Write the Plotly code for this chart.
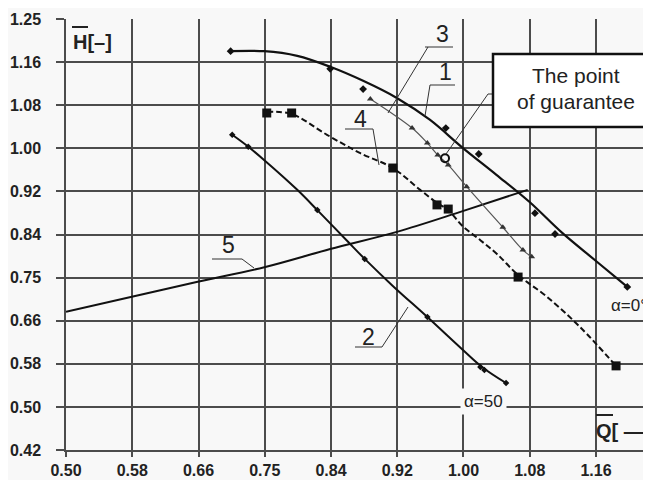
import plotly.graph_objects as go

# ---------------- data ----------------
x_ticks = [0.50, 0.5825, 0.665, 0.7475, 0.83, 0.9125, 0.995, 1.0775, 1.16]
x_ticktext = ["0.50", "0.58", "0.66", "0.75", "0.84", "0.92", "1.00", "1.08", "1.16"]
y_ticks = [0.42, 0.503, 0.586, 0.669, 0.752, 0.835, 0.918, 1.001, 1.084, 1.167, 1.25]
y_ticktext = ["0.42", "0.50", "0.58", "0.66", "0.75", "0.84", "0.92", "1.00", "1.08", "1.16", "1.25"]

# curve 1 (alpha = 0 deg)
c1_q = [0.705, 0.747, 0.788, 0.829, 0.870, 0.912, 0.953, 0.994, 1.036, 1.077, 1.118, 1.160, 1.199]
c1_h = [1.188, 1.188, 1.179, 1.158, 1.131, 1.098, 1.056, 1.002, 0.950, 0.898, 0.838, 0.784, 0.734]
c1_pts_q = [0.705, 0.829, 0.870, 0.973, 1.014, 1.084, 1.109, 1.199]
c1_pts_h = [1.188, 1.154, 1.115, 1.040, 0.990, 0.876, 0.836, 0.734]

# curve 2 (alpha = 50)
c2_q = [0.707, 0.727, 0.747, 0.788, 0.813, 0.850, 0.872, 0.907, 0.950, 0.994, 1.018, 1.048]
c2_h = [1.027, 1.004, 0.978, 0.921, 0.882, 0.823, 0.788, 0.736, 0.676, 0.613, 0.580, 0.549]
c2_pts_q = [0.707, 0.727, 0.813, 0.872, 0.950, 1.016, 1.021, 1.048]
c2_pts_h = [1.027, 1.004, 0.882, 0.788, 0.676, 0.580, 0.574, 0.549]

# curve 3 (triangles)
c3_q = [0.879, 0.931, 0.950, 0.963, 0.976, 0.999, 1.044, 1.069, 1.080]
c3_h = [1.096, 1.040, 1.011, 0.988, 0.969, 0.927, 0.849, 0.805, 0.792]

# curve 4 (dashed, squares)
c4_q = [0.750, 0.781, 0.825, 0.866, 0.907, 0.941, 0.962, 0.976, 0.994, 1.016, 1.037, 1.063, 1.099, 1.140, 1.185]
c4_h = [1.071, 1.067, 1.027, 0.992, 0.963, 0.921, 0.896, 0.882, 0.851, 0.824, 0.797, 0.757, 0.715, 0.657, 0.582]
c4_pts_q = [0.750, 0.781, 0.907, 0.962, 0.976, 1.063, 1.185]
c4_pts_h = [1.069, 1.069, 0.963, 0.892, 0.884, 0.753, 0.582]

# curve 5
c5_q = [0.500, 0.582, 0.664, 0.747, 0.829, 0.912, 0.994, 1.075]
c5_h = [0.686, 0.715, 0.744, 0.772, 0.807, 0.840, 0.880, 0.921]

# point of guarantee
g_q = [0.972]
g_h = [0.982]

# ---------------- layout helpers (screen pixel -> axis units) ----------------
W, H = 651, 480
OFF = 8                       # page body margin of the browser
PL, PR, PT, PB = 66, 651, 19, 450   # plot area on screen
XR = [0.50, 0.50 + (PR - PL) / 803.0]
YR = [0.42, 1.25]


def X(px):
    return XR[0] + (px - PL) * (XR[1] - XR[0]) / (PR - PL)


def Y(py):
    return YR[0] + (PB - py) * (YR[1] - YR[0]) / (PB - PT)


BG = "#f8f8f8"
GRID = "#4c4c4c"
FONT = "Liberation Sans, Arial, sans-serif"

fig = go.Figure()

fig.add_trace(go.Scatter(x=c5_q, y=c5_h, mode="lines", line=dict(color="#111", width=2, shape="spline"),
                         hoverinfo="skip"))
fig.add_trace(go.Scatter(x=c1_q, y=c1_h, mode="lines", line=dict(color="#111", width=2.2, shape="spline"),
                         hoverinfo="skip"))
fig.add_trace(go.Scatter(x=c1_pts_q, y=c1_pts_h, mode="markers",
                         marker=dict(symbol="diamond", size=6, color="#111")))
fig.add_trace(go.Scatter(x=c2_q, y=c2_h, mode="lines", line=dict(color="#111", width=2, shape="spline"),
                         hoverinfo="skip"))
fig.add_trace(go.Scatter(x=c2_pts_q, y=c2_pts_h, mode="markers",
                         marker=dict(symbol="diamond", size=5, color="#111")))
fig.add_trace(go.Scatter(x=c3_q, y=c3_h, mode="lines+markers",
                         line=dict(color="#555", width=1.2, shape="spline"),
                         marker=dict(symbol="triangle-up", size=6, color="#333")))
fig.add_trace(go.Scatter(x=c4_q, y=c4_h, mode="lines",
                         line=dict(color="#111", width=2, dash="6px,3px", shape="spline")))
fig.add_trace(go.Scatter(x=c4_pts_q, y=c4_pts_h, mode="markers",
                         marker=dict(symbol="square", size=9, color="#111")))
fig.add_trace(go.Scatter(x=g_q, y=g_h, mode="markers",
                         marker=dict(symbol="circle-open", size=8, color="#111", line=dict(width=2))))

shapes = []
def seg(x0, y0, x1, y1, w=1, c="#333"):
    shapes.append(dict(type="line", xref="x", yref="y", x0=X(x0), y0=Y(y0), x1=X(x1), y1=Y(y1),
                       line=dict(color=c, width=w)))

# leader lines / underlines
seg(425, 47, 453, 47); seg(428, 47, 388, 113)          # 3
seg(430, 85, 455, 85); seg(430, 85, 425, 116)          # 1
seg(345, 129, 373, 129); seg(373, 129, 379, 165)       # 4
seg(212, 259, 242, 259); seg(242, 259, 254, 268)       # 5
seg(355, 347, 382, 347); seg(382, 347, 408, 307)       # 2
seg(488, 94, 493, 94); seg(488, 94, 446, 154)          # guarantee
# overlines for axis titles
seg(72, 27, 88, 27, w=2, c="#222")
seg(596, 415, 613, 415, w=2, c="#222")

# guarantee box
shapes.append(dict(type="rect", xref="x", yref="y", x0=X(493), y0=Y(127), x1=X(662), y1=Y(54),
                   line=dict(color="#111", width=2.5), fillcolor="white"))

annotations = []
def txt(s, px, py, size, bold=False, xanchor="center", bg=None, color="#222"):
    a = dict(text=("<b>%s</b>" % s) if bold else s, x=X(px), y=Y(py), xref="x", yref="y",
             showarrow=False, xanchor=xanchor, yanchor="middle",
             font=dict(family=FONT, size=size, color=color))
    if bg:
        a.update(bgcolor=bg, borderpad=3)
    annotations.append(a)

txt("3", 442, 34, 23)
txt("1", 445, 72, 23)
txt("4", 360, 119, 23)
txt("5", 228, 245, 23)
txt("2", 368, 337, 23)
txt("The point", 576, 75, 21)
txt("of guarantee", 576, 101, 21)
txt("α=50", 483, 401, 17, bg=BG)
txt("α=0°", 649, 305, 17, xanchor="right")
txt("H[–]", 71, 42, 20, bold=True, xanchor="left")
txt("Q[ —", 594, 431, 20, bold=True, xanchor="left")

fig.update_layout(
    width=W, height=H,
    margin=dict(l=PL - OFF, r=W + OFF - PR, t=PT - OFF, b=H + OFF - PB, autoexpand=False),
    paper_bgcolor=BG, plot_bgcolor=BG,
    showlegend=False,
    shapes=shapes, annotations=annotations,
    font=dict(family=FONT, color="#222"),
)
fig.update_xaxes(range=XR, tickvals=x_ticks, ticktext=x_ticktext, showgrid=True, gridcolor=GRID, gridwidth=1.5,
                 showline=True, linecolor=GRID, linewidth=1.5, ticks="outside", ticklen=5, tickcolor=GRID,
                 tickwidth=1.5, zeroline=False, automargin=False,
                 tickfont=dict(family=FONT, size=16, color="#222", weight="bold"))
fig.update_yaxes(range=YR, tickvals=y_ticks, ticktext=y_ticktext, showgrid=True, gridcolor=GRID, gridwidth=1.5,
                 showline=True, linecolor=GRID, linewidth=1.5, ticks="outside", ticklen=8, tickcolor=GRID,
                 tickwidth=1.5, zeroline=False, ticklabelstandoff=12, automargin=False,
                 tickfont=dict(family=FONT, size=16, color="#222", weight="bold"))

fig.write_html("out.html")
